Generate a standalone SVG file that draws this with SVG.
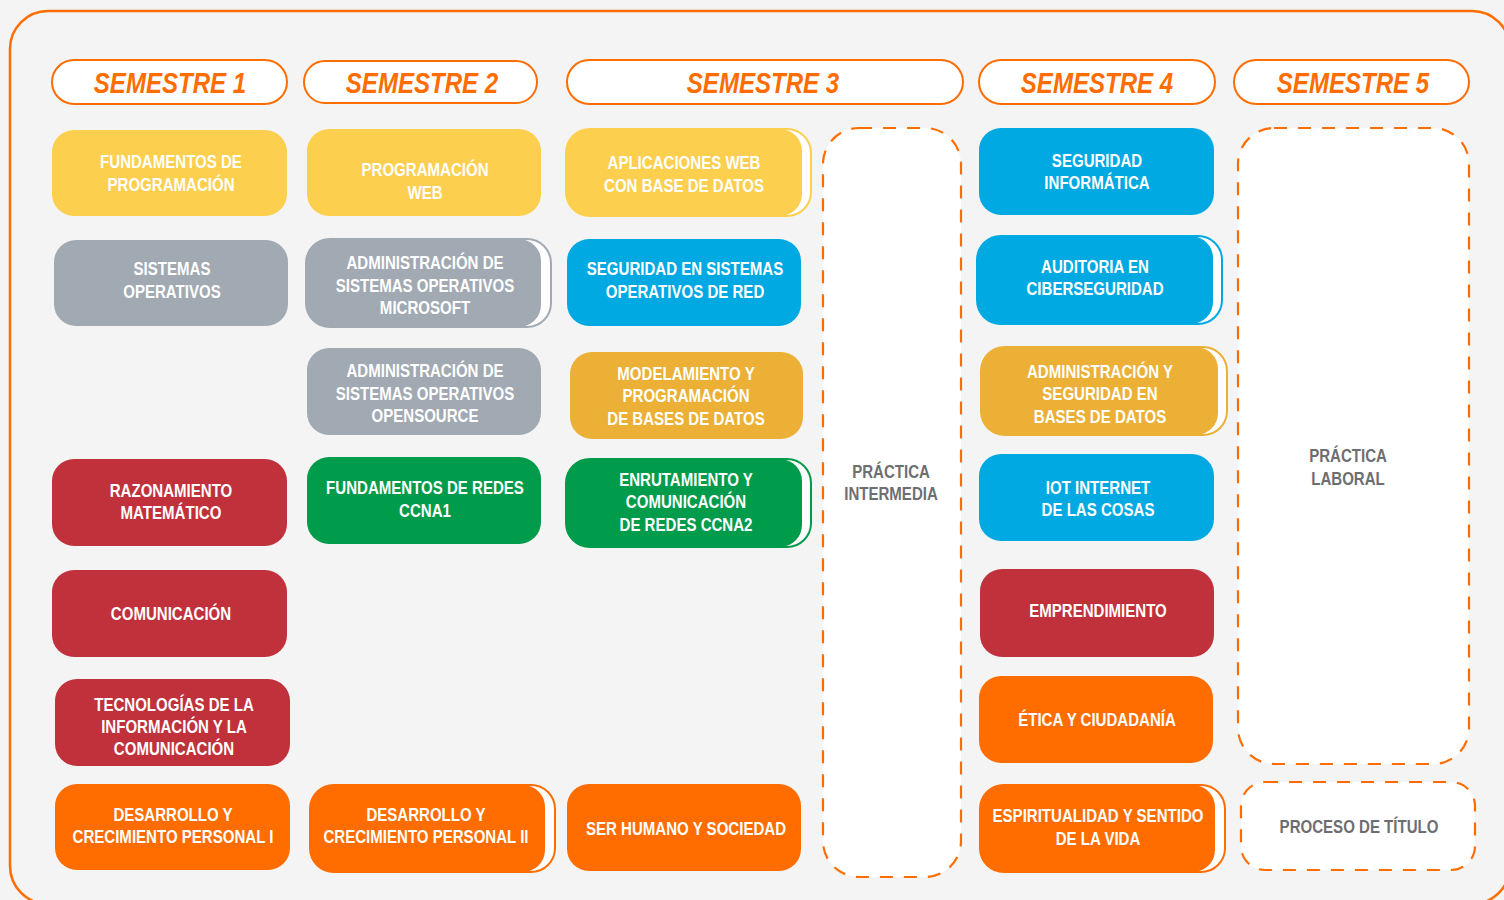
<svg xmlns="http://www.w3.org/2000/svg" width="1504" height="900" viewBox="0 0 1504 900">
<style>
.t{font-family:"Liberation Sans",Arial,sans-serif;font-weight:bold;font-size:17.5px;fill:#ffffff;text-anchor:middle}
.g{font-family:"Liberation Sans",Arial,sans-serif;font-weight:bold;font-size:17.5px;fill:#6d6e71;text-anchor:middle}
.h{font-family:"Liberation Sans",Arial,sans-serif;font-weight:bold;font-style:italic;font-size:29px;fill:#ff6d00;text-anchor:middle}
.hdr{fill:#ffffff;stroke:#ff6d00;stroke-width:2}
.dash{fill:#ffffff;stroke:#ff6d00;stroke-width:2.2;stroke-dasharray:13 11}
.y{fill:#fdcf4e}.dy{fill:#ebb035}.gr{fill:#a1a9b3}.b{fill:#00a9e2}.r{fill:#c0313b}.gn{fill:#009b4b}.o{fill:#ff6d00}
.sy{fill:#ffffff;stroke:#fdcf4e;stroke-width:2}.sdy{fill:#ffffff;stroke:#ebb035;stroke-width:2}.sgr{fill:#ffffff;stroke:#a1a9b3;stroke-width:2}
.sb{fill:#ffffff;stroke:#00a9e2;stroke-width:2}.sgn{fill:#ffffff;stroke:#009b4b;stroke-width:2}.so{fill:#ffffff;stroke:#ff6d00;stroke-width:2}
</style>
<rect x="0" y="0" width="1504" height="900" fill="#f4f4f4"/>
<rect x="10" y="11" width="1500" height="893" rx="38" fill="#f4f4f4" stroke="#ff6d00" stroke-width="2.5"/>

<g id="headers">
<g id="h1"><rect class="hdr" x="52" y="60" width="235" height="44" rx="22"/><g transform="translate(170,0) scale(0.83,1)"><text class="h" x="0" y="93">SEMESTRE 1</text></g></g>
<g id="h2"><rect class="hdr" x="304" y="61" width="233" height="42" rx="21"/><g transform="translate(422,0) scale(0.83,1)"><text class="h" x="0" y="93">SEMESTRE 2</text></g></g>
<g id="h3"><rect class="hdr" x="567" y="60" width="396" height="44" rx="22"/><g transform="translate(763,0) scale(0.83,1)"><text class="h" x="0" y="93">SEMESTRE 3</text></g></g>
<g id="h4"><rect class="hdr" x="979" y="60" width="236" height="44" rx="22"/><g transform="translate(1097,0) scale(0.83,1)"><text class="h" x="0" y="93">SEMESTRE 4</text></g></g>
<g id="h5"><rect class="hdr" x="1234" y="60" width="235" height="44" rx="22"/><g transform="translate(1353,0) scale(0.83,1)"><text class="h" x="0" y="93">SEMESTRE 5</text></g></g>
</g>

<g id="connectors"></g>

<!-- Column 1 -->
<g id="fund-prog"><rect class="y" x="52" y="130" width="235" height="86" rx="22"/><g transform="translate(171,0) scale(0.86,1)"><text class="t" x="0" y="168">FUNDAMENTOS DE</text><text class="t" x="0" y="191">PROGRAMACIÓN</text></g></g>
<g id="sist-op"><rect class="gr" x="54" y="240" width="234" height="86" rx="22"/><g transform="translate(172,0) scale(0.86,1)"><text class="t" x="0" y="275">SISTEMAS</text><text class="t" x="0" y="298">OPERATIVOS</text></g></g>
<g id="raz-mat"><rect class="r" x="52" y="459" width="235" height="87" rx="22"/><g transform="translate(171,0) scale(0.86,1)"><text class="t" x="0" y="497">RAZONAMIENTO</text><text class="t" x="0" y="519">MATEMÁTICO</text></g></g>
<g id="comunicacion"><rect class="r" x="52" y="570" width="235" height="87" rx="22"/><g transform="translate(171,0) scale(0.86,1)"><text class="t" x="0" y="620">COMUNICACIÓN</text></g></g>
<g id="tics"><rect class="r" x="55" y="679" width="235" height="87" rx="22"/><g transform="translate(174,0) scale(0.86,1)"><text class="t" x="0" y="711">TECNOLOGÍAS DE LA</text><text class="t" x="0" y="733">INFORMACIÓN Y LA</text><text class="t" x="0" y="755">COMUNICACIÓN</text></g></g>
<g id="dcp1"><rect class="o" x="55" y="784" width="235" height="86" rx="22"/><g transform="translate(173,0) scale(0.86,1)"><text class="t" x="0" y="821">DESARROLLO Y</text><text class="t" x="0" y="843">CRECIMIENTO PERSONAL I</text></g></g>

<!-- Column 2 -->
<g id="prog-web"><rect class="y" x="307" y="129" width="234" height="87" rx="22"/><g transform="translate(425,0) scale(0.86,1)"><text class="t" x="0" y="176">PROGRAMACIÓN</text><text class="t" x="0" y="199">WEB</text></g></g>
<g id="adm-ms"><rect class="sgr" x="306" y="239" width="245" height="88" rx="24"/><rect class="gr" x="306" y="239" width="235" height="88" rx="22"/><g transform="translate(425,0) scale(0.86,1)"><text class="t" x="0" y="269">ADMINISTRACIÓN DE</text><text class="t" x="0" y="292">SISTEMAS OPERATIVOS</text><text class="t" x="0" y="314">MICROSOFT</text></g></g>
<g id="adm-os"><rect class="gr" x="307" y="348" width="234" height="87" rx="22"/><g transform="translate(425,0) scale(0.86,1)"><text class="t" x="0" y="377">ADMINISTRACIÓN DE</text><text class="t" x="0" y="400">SISTEMAS OPERATIVOS</text><text class="t" x="0" y="422">OPENSOURCE</text></g></g>
<g id="ccna1"><rect class="gn" x="307" y="457" width="234" height="87" rx="22"/><g transform="translate(425,0) scale(0.86,1)"><text class="t" x="0" y="494">FUNDAMENTOS DE REDES</text><text class="t" x="0" y="517">CCNA1</text></g></g>
<g id="dcp2"><rect class="so" x="310" y="785" width="245" height="87" rx="24"/><rect class="o" x="310" y="785" width="235" height="87" rx="22"/><g transform="translate(426,0) scale(0.86,1)"><text class="t" x="0" y="821">DESARROLLO Y</text><text class="t" x="0" y="843">CRECIMIENTO PERSONAL II</text></g></g>

<!-- Column 3 -->
<g id="app-web"><rect class="sy" x="566" y="129" width="245" height="87" rx="24"/><rect class="y" x="566" y="129" width="236" height="87" rx="22"/><g transform="translate(684,0) scale(0.86,1)"><text class="t" x="0" y="169">APLICACIONES WEB</text><text class="t" x="0" y="192">CON BASE DE DATOS</text></g></g>
<g id="seg-so-red"><rect class="b" x="567" y="239" width="234" height="87" rx="22"/><g transform="translate(685,0) scale(0.86,1)"><text class="t" x="0" y="275">SEGURIDAD EN SISTEMAS</text><text class="t" x="0" y="298">OPERATIVOS DE RED</text></g></g>
<g id="model-bd"><rect class="dy" x="570" y="352" width="233" height="87" rx="22"/><g transform="translate(686,0) scale(0.86,1)"><text class="t" x="0" y="380">MODELAMIENTO Y</text><text class="t" x="0" y="402">PROGRAMACIÓN</text><text class="t" x="0" y="425">DE BASES DE DATOS</text></g></g>
<g id="ccna2"><rect class="sgn" x="566" y="459" width="245" height="88" rx="24"/><rect class="gn" x="566" y="459" width="236" height="88" rx="22"/><g transform="translate(686,0) scale(0.86,1)"><text class="t" x="0" y="486">ENRUTAMIENTO Y</text><text class="t" x="0" y="508">COMUNICACIÓN</text><text class="t" x="0" y="531">DE REDES CCNA2</text></g></g>
<g id="ser-humano"><rect class="o" x="567" y="784" width="234" height="87" rx="22"/><g transform="translate(686,0) scale(0.86,1)"><text class="t" x="0" y="835">SER HUMANO Y SOCIEDAD</text></g></g>

<g id="practica-intermedia"><rect class="dash" x="823" y="128" width="138" height="749" rx="36"/><g transform="translate(891,0) scale(0.86,1)"><text class="g" x="0" y="478">PRÁCTICA</text><text class="g" x="0" y="500">INTERMEDIA</text></g></g>

<!-- Column 4 -->
<g id="seg-inf"><rect class="b" x="979" y="128" width="235" height="87" rx="22"/><g transform="translate(1097,0) scale(0.86,1)"><text class="t" x="0" y="167">SEGURIDAD</text><text class="t" x="0" y="189">INFORMÁTICA</text></g></g>
<g id="auditoria"><rect class="sb" x="977" y="236" width="245" height="88" rx="24"/><rect class="b" x="977" y="236" width="236" height="88" rx="22"/><g transform="translate(1095,0) scale(0.86,1)"><text class="t" x="0" y="273">AUDITORIA EN</text><text class="t" x="0" y="295">CIBERSEGURIDAD</text></g></g>
<g id="adm-seg-bd"><rect class="sdy" x="981" y="347" width="246" height="88" rx="24"/><rect class="dy" x="981" y="347" width="237" height="88" rx="22"/><g transform="translate(1100,0) scale(0.86,1)"><text class="t" x="0" y="378">ADMINISTRACIÓN Y</text><text class="t" x="0" y="400">SEGURIDAD EN</text><text class="t" x="0" y="423">BASES DE DATOS</text></g></g>
<g id="iot"><rect class="b" x="979" y="454" width="235" height="87" rx="22"/><g transform="translate(1098,0) scale(0.86,1)"><text class="t" x="0" y="494">IOT INTERNET</text><text class="t" x="0" y="516">DE LAS COSAS</text></g></g>
<g id="emprendimiento"><rect class="r" x="980" y="569" width="234" height="88" rx="22"/><g transform="translate(1098,0) scale(0.86,1)"><text class="t" x="0" y="617">EMPRENDIMIENTO</text></g></g>
<g id="etica"><rect class="o" x="979" y="676" width="234" height="87" rx="22"/><g transform="translate(1097,0) scale(0.86,1)"><text class="t" x="0" y="726">ÉTICA Y CIUDADANÍA</text></g></g>
<g id="espiritualidad"><rect class="so" x="980" y="785" width="245" height="87" rx="24"/><rect class="o" x="980" y="785" width="235" height="87" rx="22"/><g transform="translate(1098,0) scale(0.86,1)"><text class="t" x="0" y="822">ESPIRITUALIDAD Y SENTIDO</text><text class="t" x="0" y="845">DE LA VIDA</text></g></g>

<!-- Column 5 -->
<g id="practica-laboral"><rect class="dash" x="1238" y="128" width="231" height="636" rx="36"/><g transform="translate(1348,0) scale(0.86,1)"><text class="g" x="0" y="462">PRÁCTICA</text><text class="g" x="0" y="485">LABORAL</text></g></g>
<g id="proceso-titulo"><rect class="dash" x="1241" y="782" width="234" height="88" rx="24"/><g transform="translate(1359,0) scale(0.86,1)"><text class="g" x="0" y="833">PROCESO DE TÍTULO</text></g></g>
</svg>
